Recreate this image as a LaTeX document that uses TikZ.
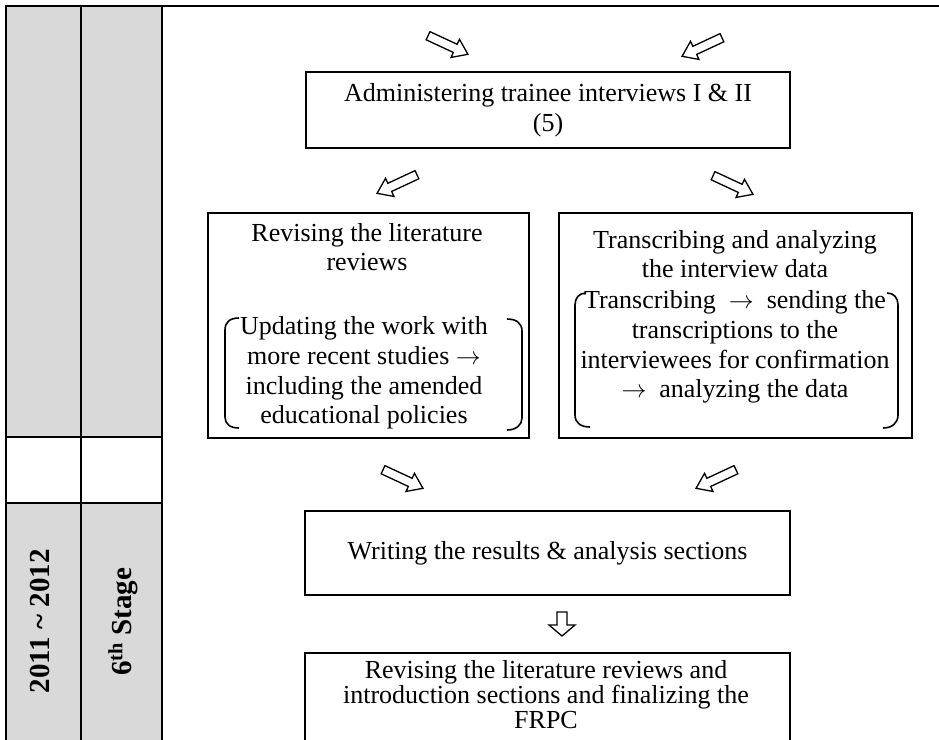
\documentclass[tikz,border=0pt]{standalone}
\usepackage{fontspec}
\setmainfont{Liberation Serif}
\definecolor{cellgray}{HTML}{D9D9D9}
\tikzset{
  rule/.style={line width=2pt},
  frame/.style={draw, line width=2pt, inner sep=0pt, anchor=north west, align=center,
    font=\fontsize{26}{30}\selectfont},
  txt/.style={align=center, inner sep=0pt, font=\fontsize{26}{29.7}\selectfont},
  side/.style={inner sep=0pt, rotate=90, font=\fontsize{29}{33}\selectfont\bfseries},
  brk/.style={line width=1.6pt},
  pics/harrow/.style n args={4}{code={
    \draw[line width=1.3pt, line join=miter]
      ({-#1/2},{-#2}) -- ({#1/2-#4},{-#2}) -- ({#1/2-#4},{-#3}) -- ({#1/2},0)
      -- ({#1/2-#4},{#3}) -- ({#1/2-#4},{#2}) -- ({-#1/2},{#2}) -- cycle;
  }}
}
\begin{document}
\begin{tikzpicture}[x=1pt,y=-1pt]
\clip (0,0) rectangle (939,739);
\fill[white] (0,0) rectangle (939,739);
% left table
\fill[cellgray] (6,6) rectangle (162,437);
\fill[cellgray] (6,503) rectangle (162,760);
\draw[rule] (6,760) -- (6,6) -- (939,6);
\draw[rule] (81,6) -- (81,760);
\draw[rule] (162,6) -- (162,760);
\draw[rule] (6,437) -- (162,437);
\draw[rule] (6,503) -- (162,503);
\node[side] (year) at (40,621) {2011 \textasciitilde{} 2012};
\node[side] (stage) at (123,622) {6\textsuperscript{th} Stage};

% top box
\node[frame, minimum width=484pt, minimum height=76pt] (admin) at (305,71)
  {Administering trainee interviews I \& II\\(5)};

% left box
\node[frame, minimum width=321pt, minimum height=225pt] (lbox) at (207,212) {};
\node[txt] (ltitle) at (367,247) {Revising the literature\\reviews};
\node[txt] (lbody) at (364,373) {Updating the work with\\more recent studies $\rightarrow$\\including the amended\\educational policies};
\draw[brk] (239,318) .. controls (230,318) and (225,322) .. (225,330) -- (225,417)
  .. controls (225,424) and (230,428) .. (239,428);
\draw[brk] (507,319) .. controls (516,319) and (522,323) .. (522,331) -- (522,418)
  .. controls (522,425) and (516,430) .. (507,430);

% right box
\node[frame, minimum width=353pt, minimum height=225pt] (rbox) at (558,212) {};
\node[txt] (rtitle) at (735,254) {Transcribing and analyzing\\the interview data};
\node[txt] (rbody) at (735,347) {Transcribing \ $\rightarrow$ \ sending the\\transcriptions to the\\interviewees for confirmation\\$\rightarrow$\ \ analyzing the data};
\draw[brk] (586,293) .. controls (579,293) and (575,298) .. (575,305) -- (575,415)
  .. controls (575,423) and (581,427) .. (590,427);
\draw[brk] (887,293) .. controls (894,293) and (898,298) .. (898,305) -- (898,415)
  .. controls (898,423) and (892,428) .. (883,428);

% writing box
\node[frame, minimum width=485pt, minimum height=84pt] (write) at (304,510)
  {Writing the results \& analysis sections};

% final box
\node[frame, minimum width=485pt, minimum height=120pt] (final) at (304,652) {};
\node[txt, font=\fontsize{26}{25}\selectfont] (ftext) at (546,695)
  {Revising the literature reviews and\\introduction sections and finalizing the\\FRPC};

% hollow arrows
\pic[rotate=-25] (a1) at (448,45) {harrow={44}{4.5}{10}{14}};
\pic[rotate=-155] (a2) at (702,47) {harrow={44}{4.5}{10}{14}};
\pic[rotate=-155] (a3) at (397,184) {harrow={44}{4.5}{10}{14}};
\pic[rotate=-25] (a4) at (733,185) {harrow={44}{4.5}{10}{14}};
\pic[rotate=-25] (a5) at (403,479) {harrow={44}{4.5}{10}{14}};
\pic[rotate=-155] (a6) at (716,479) {harrow={44}{4.5}{10}{14}};
\pic[rotate=-90] (a7) at (562,624) {harrow={24}{5}{13}{11}};
\end{tikzpicture}
\end{document}
